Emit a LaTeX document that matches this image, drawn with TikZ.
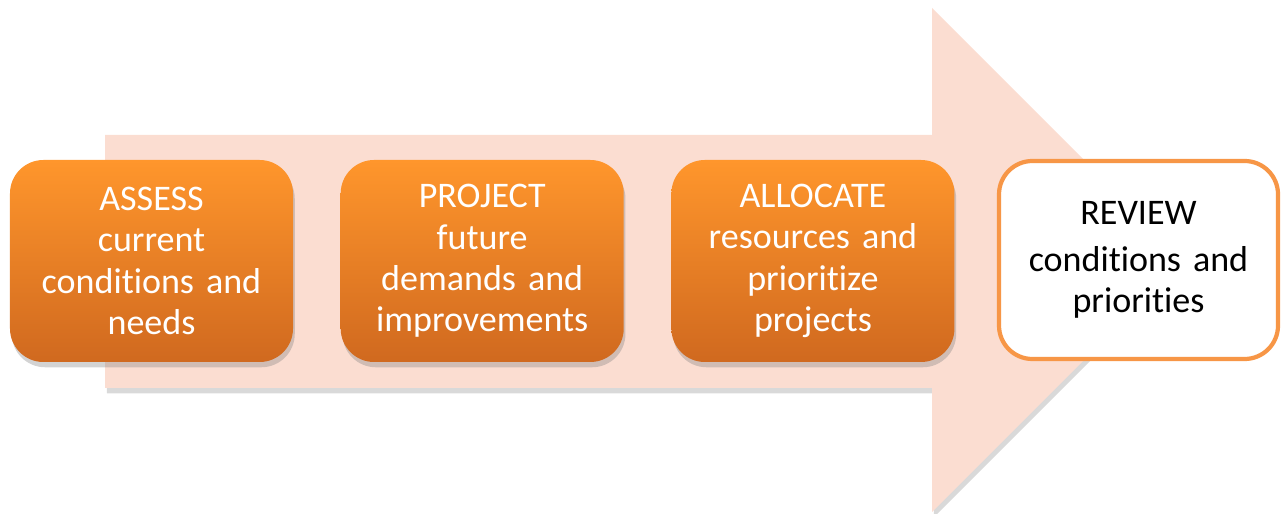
\documentclass[tikz,border=0pt]{standalone}
\usepackage{fontspec}
\setmainfont{Carlito}[Ligatures=NoCommon]
\usepackage{tikz}
\usetikzlibrary{shadows}
\usetikzlibrary{positioning}

\definecolor{arrowpeach}{HTML}{FBDDD1}
\definecolor{boxtop}{HTML}{FF962C}
\definecolor{boxbot}{HTML}{D0691F}
\definecolor{reviewline}{HTML}{F79646}

\tikzset{
  stagebox/.style={rounded corners=19pt, minimum width=5.66cm, minimum height=4.04cm,
    text width=5.3cm, align=center, inner sep=0pt, text=white,
    top color=boxtop, bottom color=boxbot, draw=none,
    drop shadow={shadow xshift=1pt, shadow yshift=-3pt, opacity=0.35},
    font=\fontsize{20.5}{23.5}\selectfont},
  reviewbox/.style={rounded corners=19pt, minimum width=5.58cm, minimum height=3.96cm,
    text width=5.3cm, align=center, inner sep=0pt, fill=white,
    draw=reviewline, line width=2.4pt,
    font=\fontsize{20.5}{23.5}\selectfont}
}

\begin{document}
\begin{tikzpicture}
\useasboundingbox (0,0) rectangle (25.64,10.28);

% big arrow behind the stages
\fill[arrowpeach, drop shadow={shadow xshift=1pt, shadow yshift=-3pt, opacity=0.3}]
  (2.1,2.52) -- (18.64,2.52) -- (18.64,0.04) -- (23.68,5.08)
  -- (18.64,10.12) -- (18.64,7.58) -- (2.1,7.58) -- cycle;

% stages
\node[stagebox] (assess) at (3.03,5.06) {ASSESS\\current\\conditions and\\needs};
\node[stagebox, right=0.94cm of assess] (project) {PROJECT\\future\\demands and\\improvements};
\node[stagebox, right=0.94cm of project] (allocate) {ALLOCATE\\resources and\\prioritize\\projects};
\node[reviewbox] (review) at (22.77,5.08) {\vspace*{3pt}REVIEW\\conditions and\\priorities};

\end{tikzpicture}
\end{document}
